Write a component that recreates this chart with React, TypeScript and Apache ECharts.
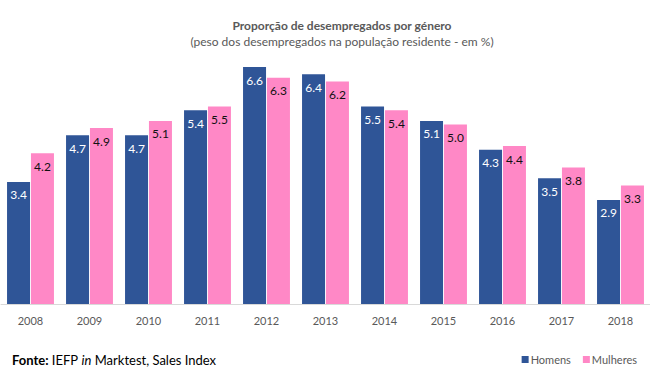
import React, { useEffect, useRef } from "react";
import * as echarts from "echarts";

const years = ["2008", "2009", "2010", "2011", "2012", "2013", "2014", "2015", "2016", "2017", "2018"];
const homens = [3.4, 4.7, 4.7, 5.4, 6.6, 6.4, 5.5, 5.1, 4.3, 3.5, 2.9];
const mulheres = [4.2, 4.9, 5.1, 5.5, 6.3, 6.2, 5.4, 5.0, 4.4, 3.8, 3.3];

const FONT = "Lato, 'Open Sans', sans-serif";

export default function App() {
  const ref = useRef<HTMLDivElement>(null);
  useEffect(() => {
    if (!ref.current) return;
    const chart = echarts.init(ref.current, null, { renderer: "svg" });
    chart.setOption({
      animation: false,
      backgroundColor: "#ffffff",
      textStyle: { fontFamily: FONT },
      title: {
        text: "Proporção de desempregados por género",
        subtext: "(peso dos desempregados na população residente - em %)",
        left: 337,
        textAlign: "center",
        top: 14,
        itemGap: 4,
        textStyle: { fontSize: 12, fontWeight: "bold", color: "#595959", fontFamily: FONT },
        subtextStyle: { fontSize: 12, color: "#595959", fontFamily: FONT },
      },
      legend: {
        right: 8,
        top: 349,
        itemWidth: 7,
        itemHeight: 7,
        itemGap: 12,
        icon: "rect",
        textStyle: { fontSize: 11, color: "#595959", fontFamily: FONT, padding: [0, 0, 0, -3] },
        data: ["Homens", "Mulheres"],
      },
      grid: { left: 1, width: 652, bottom: 80, height: 251.3, containLabel: false },
      xAxis: {
        type: "category",
        data: years,
        axisLine: { lineStyle: { color: "#d9d9d9", width: 1 } },
        axisTick: { show: false },
        axisLabel: { fontSize: 11, color: "#595959", margin: 11, fontFamily: FONT },
      },
      yAxis: {
        type: "value",
        min: 0,
        max: 7,
        show: false,
        splitLine: { show: false },
      },
      series: [
        {
          name: "Homens",
          type: "bar",
          data: homens,
          barWidth: 23,
          barGap: "4%",
          itemStyle: { color: "#2F5597" },
          label: {
            show: true,
            position: "insideTop",
            distance: 7,
            color: "#ffffff",
            fontSize: 12,
            fontFamily: FONT,
            formatter: (p: any) => p.value.toFixed(1),
          },
        },
        {
          name: "Mulheres",
          type: "bar",
          data: mulheres,
          barWidth: 23,
          itemStyle: { color: "#FF88C6" },
          label: {
            show: true,
            position: "insideTop",
            distance: 7,
            color: "#111111",
            fontSize: 12,
            fontFamily: FONT,
            formatter: (p: any) => p.value.toFixed(1),
          },
        },
      ],
      graphic: [
        {
          type: "text",
          left: 12,
          top: 353,
          style: {
            text: "{b|Fonte:} IEFP {i|in} Marktest, Sales Index",
            fontSize: 13,
            fontFamily: FONT,
            fill: "#000000",
            rich: {
              b: { fontWeight: "bold", fontSize: 13, fontFamily: FONT, fill: "#000000" },
              i: { fontStyle: "italic", fontSize: 13, fontFamily: FONT, fill: "#000000" },
            },
          },
        },
      ],
    });
    return () => chart.dispose();
  }, []);
  return (
    <div
      ref={ref}
      style={{ position: "fixed", left: 0, top: 0, width: 650, height: 384 }}
    />
  );
}
